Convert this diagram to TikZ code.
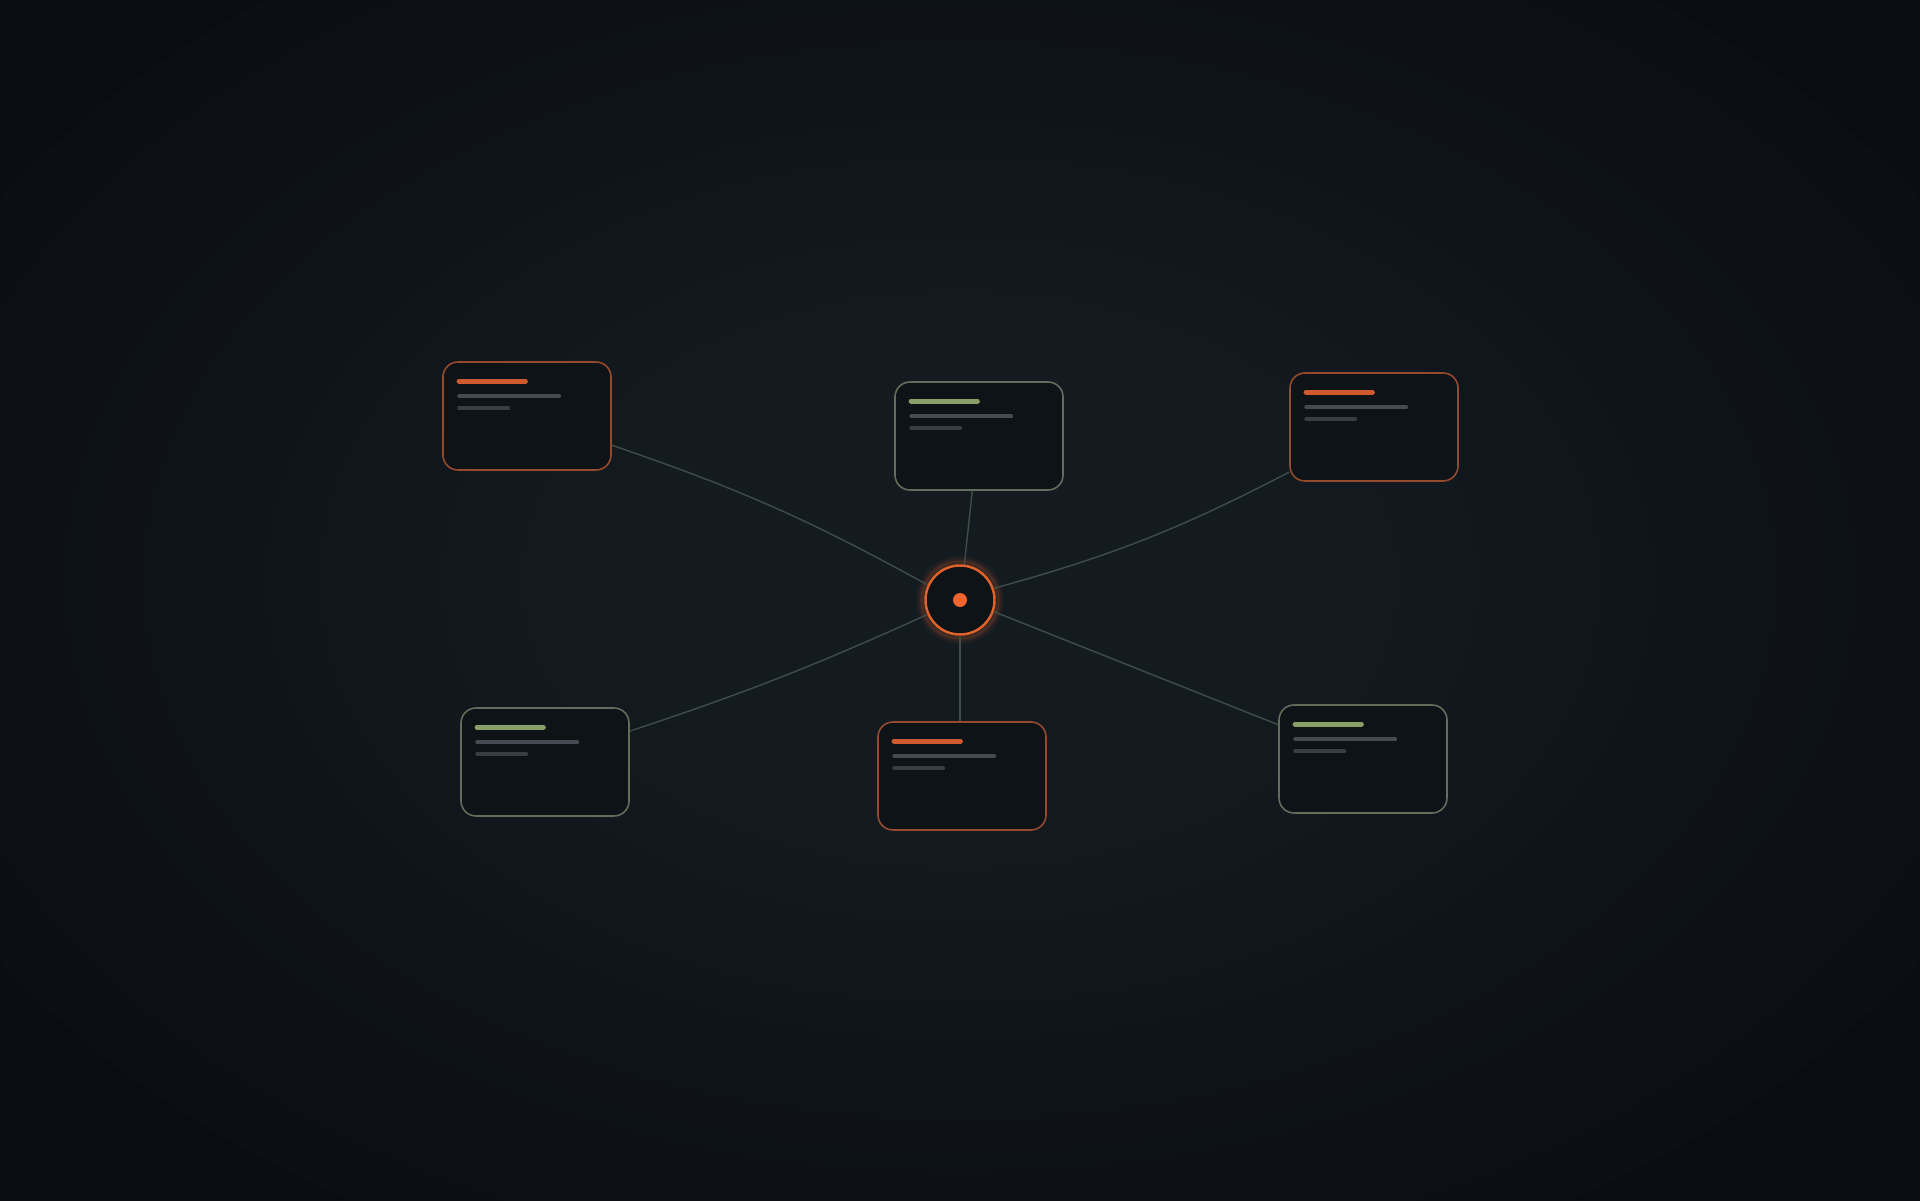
\documentclass[tikz,border=0pt]{standalone}
\usepackage{xcolor}
\usepackage{tikz}
\usetikzlibrary{calc}
\definecolor{bgmid}{HTML}{131B21}
\definecolor{bgedge}{HTML}{0B0E13}
\definecolor{bgdark}{HTML}{090C10}
\definecolor{cardfill}{HTML}{0E1318}
\definecolor{rust}{HTML}{96492D}
\definecolor{rustbar}{HTML}{CF5A2D}
\definecolor{sage}{HTML}{626D5C}
\definecolor{sagebar}{HTML}{8A9F67}
\definecolor{barone}{HTML}{464B53}
\definecolor{bartwo}{HTML}{393E45}
\definecolor{wire}{HTML}{3F4C48}
\definecolor{hubring}{HTML}{E0612C}
\definecolor{hubdot}{HTML}{F0652F}

\begin{document}
\begin{tikzpicture}[
    card/.style={draw=#1, line width=0.45pt, fill=cardfill, rounded corners=0.15cm,
      minimum width=1.68cm, minimum height=1.08cm, inner sep=0pt},
    wirestyle/.style={draw=wire, line width=0.4pt},
    bar/.style={line cap=round, line width=#1}
  ]
  \useasboundingbox (0,0) rectangle (19.2,12);
  \fill[bgdark] (-0.2,-0.2) rectangle (19.4,12.2);
  \foreach \i in {0,...,32}{
    \pgfmathsetmacro\k{\i/32}
    \pgfmathsetmacro\pct{100*\k}
    \fill[bgmid!\pct!bgedge] (9.6,6.2) ellipse ({11.2*(1-0.72*\k)} and {7.4*(1-0.72*\k)});
  }

  \node[card=rust] (A) at (5.27,7.84) {};
  \node[card=sage] (B) at (9.79,7.64) {};
  \node[card=rust] (C) at (13.74,7.73) {};
  \node[card=sage] (D) at (5.45,4.38) {};
  \node[card=rust] (E) at (9.62,4.24) {};
  \node[card=sage] (F) at (13.63,4.41) {};

  \foreach \n/\c in {A/rustbar,B/sagebar,C/rustbar,D/sagebar,E/rustbar,F/sagebar}{
    \draw[bar=1.5pt, \c] ($(\n.north west)+(0.17,-0.20)$) -- ++(0.66,0);
    \draw[bar=1.1pt, barone] ($(\n.north west)+(0.17,-0.35)$) -- ++(1.00,0);
    \draw[bar=1.1pt, bartwo] ($(\n.north west)+(0.17,-0.47)$) -- ++(0.49,0);
  }

  \foreach \r/\o in {0.42/0.05,0.395/0.10,0.375/0.18}
    \draw[hubring, opacity=\o, line width=1.2pt] (9.60,6.00) circle (\r);
  \node[circle, draw=hubring, line width=0.7pt, fill=cardfill, minimum size=0.69cm, inner sep=0pt] (hub) at (9.60,6.00) {};
  \fill[hubdot] (hub) circle (0.07);

  \draw[wirestyle] (A.-19) to[bend left=5] (hub.155);
  \draw[wirestyle] (B.-97) -- (hub.83);
  \draw[wirestyle] (C.208) to[bend left=6] (hub.19);
  \draw[wirestyle] (D.20) to[bend right=3] (hub.204);
  \draw[wirestyle] (hub.south) -- (hub.south |- E.north);
  \draw[wirestyle] (F.158) -- (hub.-19);
\end{tikzpicture}
\end{document}
